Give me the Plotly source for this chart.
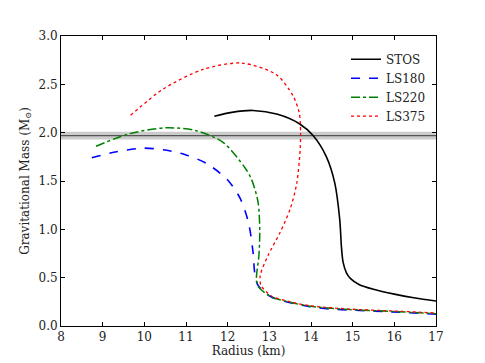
import plotly.graph_objects as go

# mass-radius curves (radius in km, mass in solar masses)
stos_r = [11.68, 12.1, 12.61, 13.2, 13.73, 14.05, 14.37, 14.57, 14.69, 14.73, 14.77, 14.85, 14.95, 15.15, 15.5, 16.0, 16.5, 17.0]
stos_m = [2.17, 2.21, 2.23, 2.19, 2.09, 1.97, 1.75, 1.48, 1.10, 0.82, 0.66, 0.55, 0.49, 0.43, 0.38, 0.33, 0.29, 0.258]

ls180_r = [8.74, 9.3, 9.97, 10.5, 11.0, 11.5, 12.0, 12.3, 12.5, 12.61, 12.65, 12.73, 13.05, 13.5, 13.97, 14.45, 14.93, 15.89, 17.0]
ls180_m = [1.74, 1.80, 1.84, 1.82, 1.77, 1.68, 1.51, 1.32, 1.07, 0.76, 0.55, 0.42, 0.30, 0.24, 0.20, 0.176, 0.165, 0.147, 0.122]

ls220_r = [8.84, 9.65, 10.53, 11.25, 11.89, 12.41, 12.57, 12.73, 12.77, 12.75, 12.69, 12.73, 13.05, 13.5, 13.97, 14.93, 15.89, 17.0]
ls220_m = [1.86, 1.99, 2.05, 2.02, 1.90, 1.64, 1.52, 1.28, 0.97, 0.73, 0.485, 0.41, 0.30, 0.245, 0.205, 0.17, 0.152, 0.128]

ls375_r = [9.67, 10.45, 11.41, 12.33, 13.17, 13.57, 13.72, 13.75, 13.74, 13.66, 13.50, 13.26, 12.97, 12.78, 12.8, 13.05, 13.5, 13.97, 14.93, 15.89, 17.0]
ls375_m = [2.18, 2.45, 2.655, 2.72, 2.60, 2.38, 2.2, 2.0, 1.83, 1.48, 1.21, 0.97, 0.73, 0.52, 0.42, 0.31, 0.25, 0.21, 0.175, 0.157, 0.135]

# observed pulsar mass band
band_mid = 1.97
band_err = 0.04

x_ticks = list(range(8, 18))
y_ticks = [0.0, 0.5, 1.0, 1.5, 2.0, 2.5, 3.0]

font = "DejaVu Serif"

fig = go.Figure()

series = [
    ("STOS", stos_r, stos_m, "black", "solid", 1.6),
    ("LS180", ls180_r, ls180_m, "#0000ff", "dash", 1.6),
    ("LS220", ls220_r, ls220_m, "#008000", "dashdot", 1.5),
    ("LS375", ls375_r, ls375_m, "#ff0000", "dot", 1.3),
]
for name, r, m, color, dash, w in series:
    fig.add_trace(go.Scatter(
        x=r, y=m, mode="lines", name=name,
        line=dict(color=color, dash=dash, width=w, shape="spline", smoothing=0.8),
    ))

fig.add_shape(type="rect", xref="paper", x0=0, x1=1, y0=band_mid - band_err, y1=band_mid + band_err,
              fillcolor="rgba(128,128,128,0.4)", line_width=0, layer="below")
fig.add_shape(type="line", xref="paper", x0=0, x1=1, y0=band_mid, y1=band_mid,
              line=dict(color="#555555", width=1.2), layer="below")

axis_common = dict(
    showline=True, linecolor="black", linewidth=1, mirror="ticks",
    ticks="inside", ticklen=4, tickcolor="black", showgrid=False, zeroline=False,
    tickfont=dict(family=font, size=12, color="#222"),
    title_font=dict(family=font, size=12, color="#222"),
)

fig.update_layout(
    width=485, height=363,
    margin=dict(l=53, r=57, t=28, b=45),
    paper_bgcolor="white", plot_bgcolor="white",
    font=dict(family=font, size=12, color="#222"),
    xaxis=dict(range=[8, 17], tickvals=x_ticks, title=dict(text="Radius (km)", standoff=2), **axis_common),
    yaxis=dict(range=[0, 3], tickvals=y_ticks, tickformat=".1f",
               title=dict(text="Gravitational Mass (M<sub>⊙</sub>)", standoff=6), **axis_common),
    legend=dict(x=0.76, y=0.97, xanchor="left", yanchor="top", bgcolor="rgba(0,0,0,0)",
                font=dict(family=font, size=12), tracegroupgap=0, itemwidth=30),
    showlegend=True,
)

fig.write_html("out.html")
